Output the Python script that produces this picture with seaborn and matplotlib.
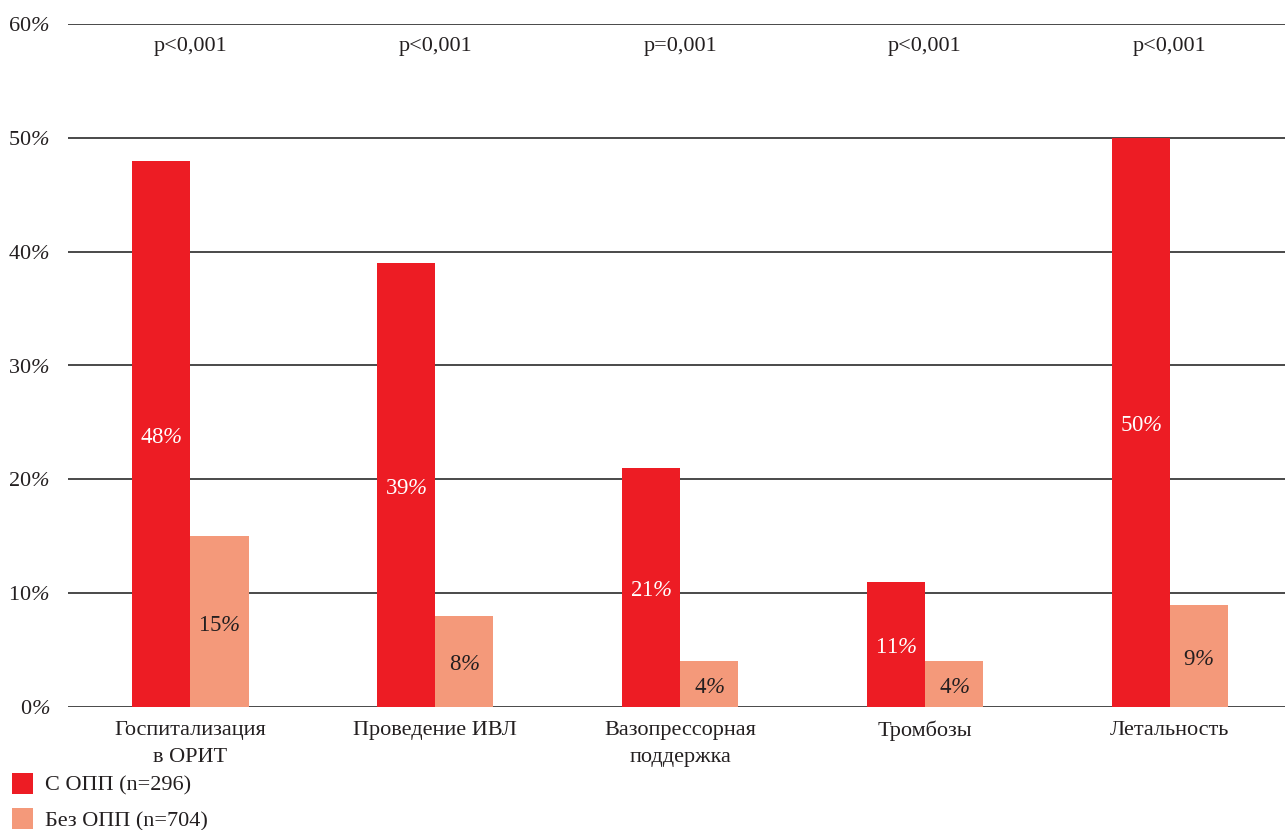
import matplotlib
matplotlib.use("Agg")
import matplotlib.pyplot as plt
from matplotlib.patches import Patch
import seaborn as sns
import pandas as pd

categories = ["Госпитализация\nв ОРИТ", "Проведение ИВЛ", "Вазопрессорная\nподдержка",
              "Тромбозы", "Летальность"]
with_opp = [48, 39, 21, 11, 50]
without_opp = [15, 8, 4, 4, 9]
p_values = ["p<0,001", "p<0,001", "p=0,001", "p<0,001", "p<0,001"]
series_names = ["С ОПП (n=296)", "Без ОПП (n=704)"]
y_ticks = [0, 10, 20, 30, 40, 50, 60]

colors = ["#ED1C24", "#F4997A"]
ink = "#231F20"

sns.set_theme(style="white")
plt.rcParams["font.family"] = ["Liberation Serif", "DejaVu Serif"]
# percent signs are set in italic via mathtext
plt.rcParams["mathtext.fontset"] = "custom"
plt.rcParams["mathtext.rm"] = "Liberation Serif:italic"
plt.rcParams["mathtext.it"] = "Liberation Serif:italic"


def pct(v):
    return f"{v:.0f}" + r"$\%$"


df = pd.DataFrame({
    "category": categories * 2,
    "value": with_opp + without_opp,
    "group": [series_names[0]] * len(categories) + [series_names[1]] * len(categories),
})

fig = plt.figure(figsize=(12.85, 8.3), dpi=100)
ax = fig.add_axes([68 / 1285, 123 / 830, 1 - 68 / 1285, (707 - 24) / 830])

for t in y_ticks:
    ax.axhline(t, color="#3a3a3a", lw=1.3, zorder=0)

sns.barplot(data=df, x="category", y="value", hue="group", palette=colors,
            width=0.475, gap=0, saturation=1, ax=ax, legend=False, zorder=2,
            linewidth=0, edgecolor="none")

ax.set_ylim(0, 60)
ax.set_xlim(-0.5, 4.47)
ax.set_yticks(y_ticks)
ax.set_yticklabels([pct(t) for t in y_ticks], fontsize=16, color=ink)
ax.tick_params(axis="y", length=0, pad=13)
ax.set_xticks(range(len(categories)))
ax.set_xticklabels(categories, fontsize=16, color=ink, linespacing=1.6)
ax.tick_params(axis="x", length=0, pad=10)
ax.set_xlabel("")
ax.set_ylabel("")
for s in ax.spines.values():
    s.set_visible(False)

# value labels inside each bar, near its middle
for container, txt_color in zip(ax.containers, ["white", ink]):
    for bar in container:
        h = bar.get_height()
        ax.text(bar.get_x() + bar.get_width() / 2, h / 2 - 0.3, pct(h),
                ha="center", va="center", fontsize=16.5, color=txt_color, zorder=3)

# significance labels above each group
for i, p in enumerate(p_values):
    ax.text(i, 58.0, p, ha="center", va="center", fontsize=16, color=ink)

handles = [Patch(facecolor=c, edgecolor="none") for c in colors]
fig.legend(handles, series_names, loc="lower left", bbox_to_anchor=(0.0, -0.0155),
           frameon=False, fontsize=16, handlelength=0.95, handleheight=1.05,
           handletextpad=0.55, labelspacing=0.55, borderaxespad=0.13, labelcolor=ink)

fig.savefig("out.png", dpi=100)
